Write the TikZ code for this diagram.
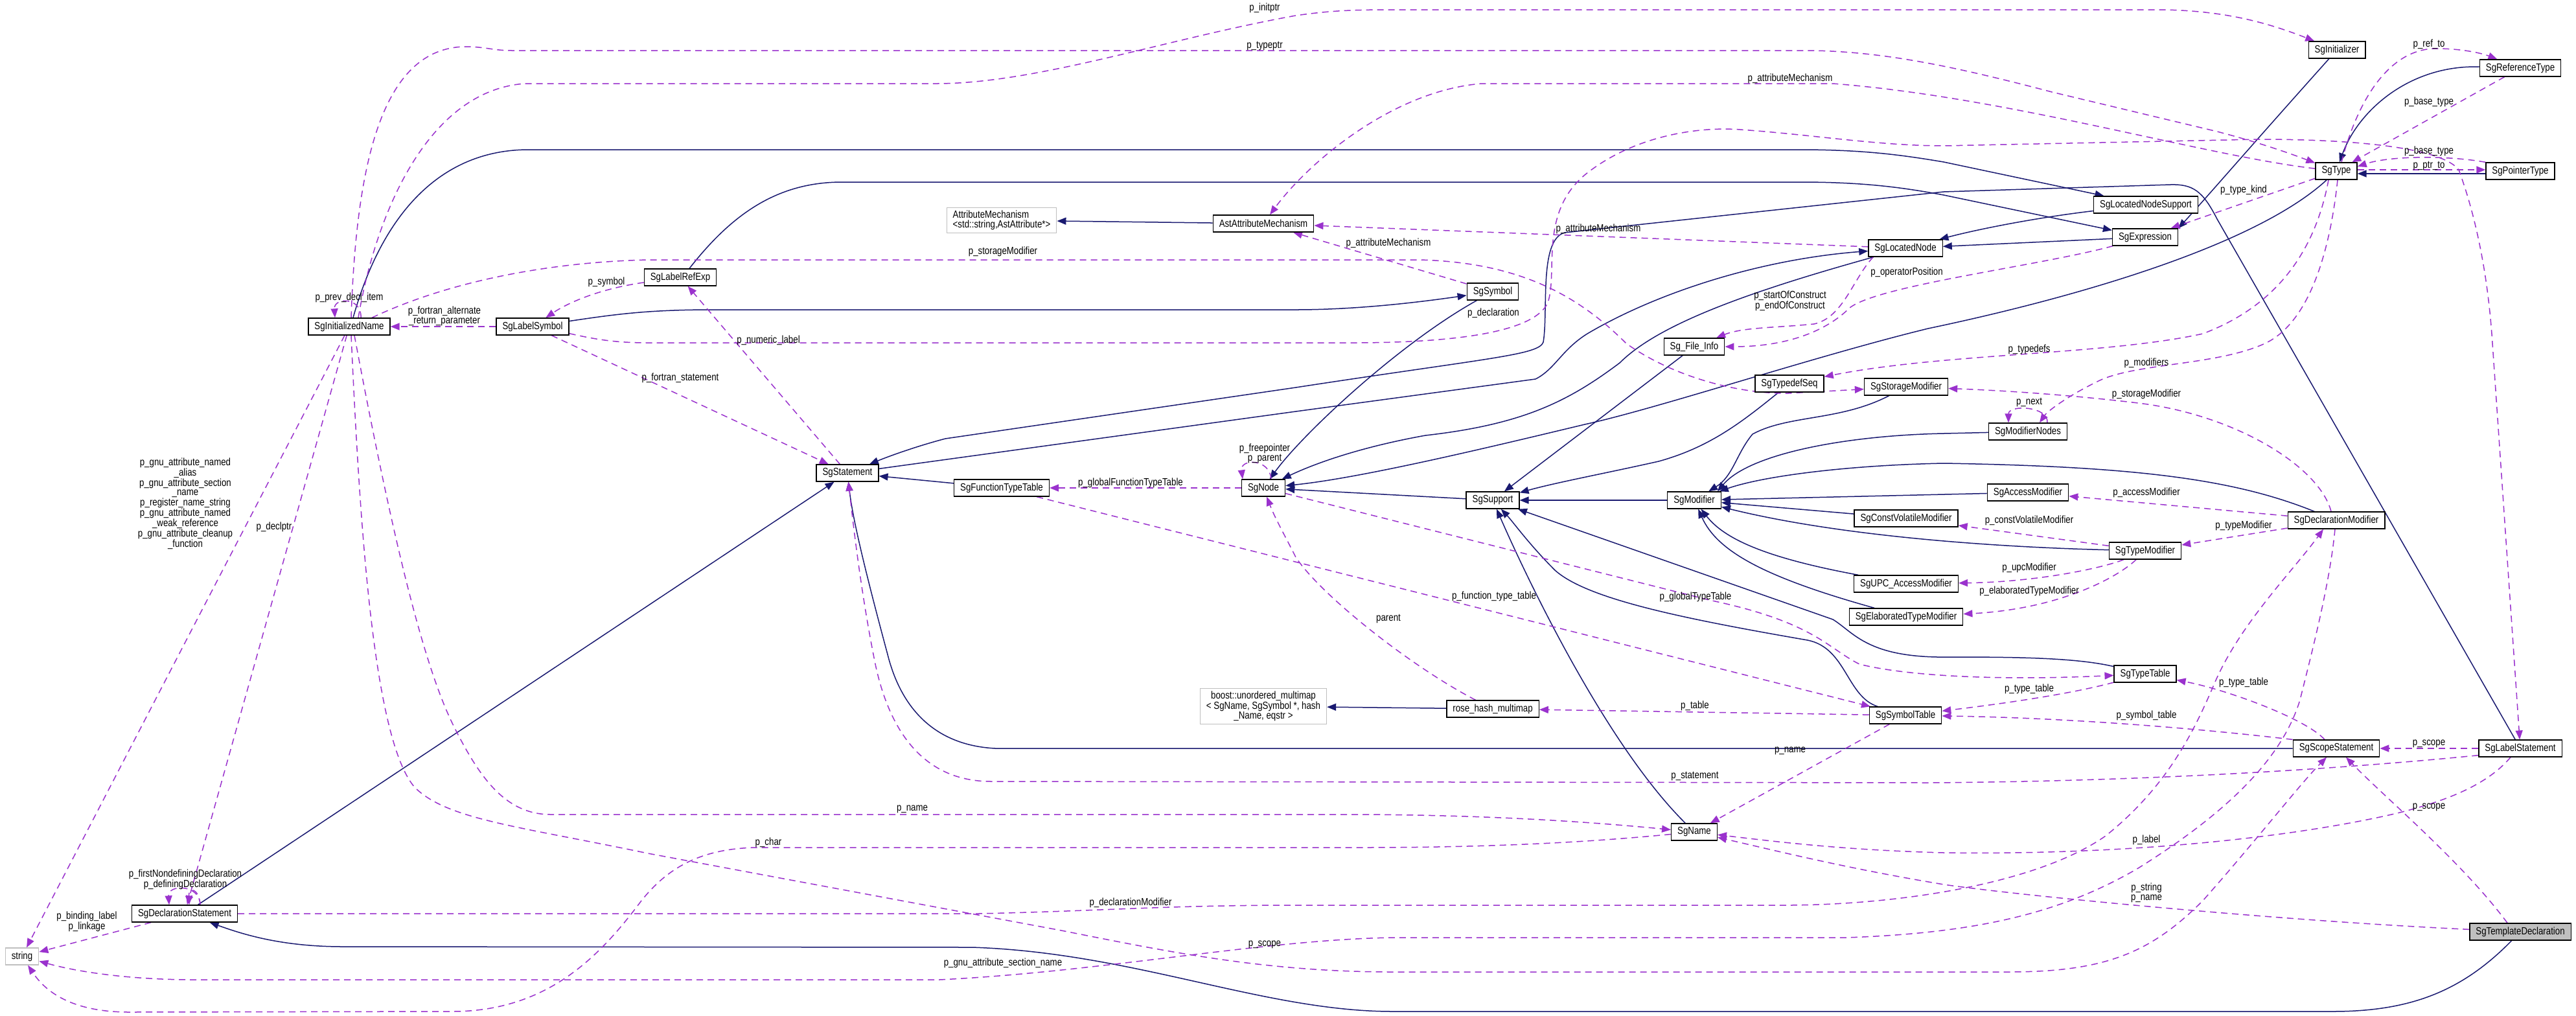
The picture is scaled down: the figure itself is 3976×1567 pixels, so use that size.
\documentclass[tikz,border=0pt]{standalone}
\usepackage{fontspec}
\setmainfont{Liberation Sans}[FakeStretch=0.83]
\usepackage{tikz}
\usetikzlibrary{arrows.meta, backgrounds}
\definecolor{navyline}{RGB}{25,25,112}
\definecolor{orchidline}{RGB}{154,50,205}
\definecolor{grayborder}{RGB}{191,191,191}
\definecolor{grayfill}{RGB}{191,191,191}
\newcommand{\graphfont}{\fontsize{16}{14.7}\selectfont}

\begin{document}
\begin{tikzpicture}[x=1pt, y=-1pt,
    cls/.style={rectangle, draw=black, line width=1.3pt, fill=white, minimum height=26pt,
                inner xsep=9.5pt, inner ysep=2pt, font=\graphfont},
    ext/.style={cls, draw=grayborder, align=left, inner ysep=5pt},
    lbl/.style={inner sep=0pt, align=center, font=\graphfont},
    inh/.style={-{Triangle[length=14pt,width=11pt]}, line width=1.5pt, navyline},
    use/.style={-{Triangle[length=14pt,width=11pt]}, line width=1.5pt, orchidline, dash pattern=on 10pt off 7pt}
]
\useasboundingbox (0,0) rectangle (3976,1567);

\node (initname) [cls] at (539,504) {SgInitializedName};
\node (labelsym) [cls] at (822,504) {SgLabelSymbol};
\node (labelref) [cls] at (1050,428) {SgLabelRefExp};
\node (attrmech) [ext] at (1546,340) {AttributeMechanism\\<std::string,AstAttribute*>};
\node (astattr) [cls] at (1950,345) {AstAttributeMechanism};
\node (symbol) [cls] at (2304,450) {SgSymbol};
\node (locnode) [cls] at (2941,383) {SgLocatedNode};
\node (initializer) [cls] at (3607,77) {SgInitializer};
\node (reftype) [cls] at (3890,105) {SgReferenceType};
\node (type) [cls] at (3606,264) {SgType};
\node (ptrtype) [cls] at (3890,264) {SgPointerType};
\node (locsupport) [cls] at (3312,316) {SgLocatedNodeSupport};
\node (expr) [cls] at (3311,366) {SgExpression};
\node (stmt) [cls] at (1308,730) {SgStatement};
\node (functable) [cls] at (1546,753) {SgFunctionTypeTable};
\node (sgnode) [cls] at (1950,753) {SgNode};
\node (fileinfo) [cls] at (2615,535) {Sg\_File\_Info};
\node (typedefseq) [cls] at (2762,592) {SgTypedefSeq};
\node (storagemod) [cls] at (2942,597) {SgStorageModifier};
\node (support) [cls] at (2304,772) {SgSupport};
\node (modifier) [cls] at (2615,772) {SgModifier};
\node (cvmod) [cls] at (2942,800) {SgConstVolatileModifier};
\node (upcmod) [cls] at (2942,901) {SgUPC\_AccessModifier};
\node (elabmod) [cls] at (2942,952) {SgElaboratedTypeModifier};
\node (modnodes) [cls] at (3130,666) {SgModifierNodes};
\node (accessmod) [cls] at (3130,760) {SgAccessModifier};
\node (typemod) [cls] at (3311,850) {SgTypeModifier};
\node (declmod) [cls] at (3606,803) {SgDeclarationModifier};
\node (typetable) [cls] at (3311,1040) {SgTypeTable};
\node (boostmap) [ext, align=center] at (1950,1090) {boost::unordered\_multimap\\< SgName, SgSymbol *, hash\\\_Name, eqstr >};
\node (rosemap) [cls] at (2304,1094) {rose\_hash\_multimap};
\node (symtable) [cls] at (2941,1104) {SgSymbolTable};
\node (sgname) [cls] at (2615,1284) {SgName};
\node (scopestmt) [cls] at (3606,1155) {SgScopeStatement};
\node (labelstmt) [cls] at (3890,1155) {SgLabelStatement};
\node (tmpldecl) [cls, fill=grayfill] at (3890,1438) {SgTemplateDeclaration};
\node (string) [ext] at (34,1476) {string};
\node (declstmt) [cls] at (285,1410) {SgDeclarationStatement};

\node (l_initptr) [lbl] at (1952,12) {p\_initptr};
\node (l_typeptr) [lbl] at (1952,71) {p\_typeptr};
\node (l_prevdecl) [lbl] at (539,459) {p\_prev\_decl\_item};
\node (l_fortalt) [lbl] at (686,488) {p\_fortran\_alternate\\\_return\_parameter};
\node (l_symbol) [lbl] at (936,435) {p\_symbol};
\node (l_storagemod) [lbl] at (1548,388) {p\_storageModifier};
\node (l_attrmech1) [lbl] at (2763,121) {p\_attributeMechanism};
\node (l_attrmech2) [lbl] at (2467,353) {p\_attributeMechanism};
\node (l_attrmech3) [lbl] at (2143,375) {p\_attributeMechanism};
\node (l_declaration) [lbl] at (2305,483) {p\_declaration};
\node (l_oppos) [lbl] at (2943,420) {p\_operatorPosition};
\node (l_construct) [lbl] at (2763,464) {p\_startOfConstruct\\p\_endOfConstruct};
\node (l_typekind) [lbl] at (3463,293) {p\_type\_kind};
\node (l_refto) [lbl] at (3749,68) {p\_ref\_to};
\node (l_basetype1) [lbl] at (3749,157) {p\_base\_type};
\node (l_basetype2) [lbl] at (3749,233) {p\_base\_type};
\node (l_ptrto) [lbl] at (3749,256) {p\_ptr\_to};
\node (l_numlabel) [lbl] at (1186,525) {p\_numeric\_label};
\node (l_fortstmt) [lbl] at (1050,583) {p\_fortran\_statement};
\node (l_freeptr) [lbl] at (1952,700) {p\_freepointer\\p\_parent};
\node (l_globalfunc) [lbl] at (1745,745) {p\_globalFunctionTypeTable};
\node (l_functable) [lbl] at (2306,920) {p\_function\_type\_table};
\node (l_globaltype) [lbl] at (2617,921) {p\_globalTypeTable};
\node (l_parent) [lbl] at (2143,955) {parent};
\node (l_typedefs) [lbl] at (3132,539) {p\_typedefs};
\node (l_modifiers) [lbl] at (3313,560) {p\_modifiers};
\node (l_storagemod2) [lbl] at (3313,608) {p\_storageModifier};
\node (l_next) [lbl] at (3132,621) {p\_next};
\node (l_accessmod) [lbl] at (3313,760) {p\_accessModifier};
\node (l_cvmod) [lbl] at (3132,803) {p\_constVolatileModifier};
\node (l_typemod) [lbl] at (3463,811) {p\_typeModifier};
\node (l_upcmod) [lbl] at (3132,876) {p\_upcModifier};
\node (l_elabmod) [lbl] at (3132,912) {p\_elaboratedTypeModifier};
\node (l_typetable1) [lbl] at (3132,1063) {p\_type\_table};
\node (l_typetable2) [lbl] at (3463,1053) {p\_type\_table};
\node (l_symtable) [lbl] at (3313,1104) {p\_symbol\_table};
\node (l_scope1) [lbl] at (3749,1148) {p\_scope};
\node (l_scope2) [lbl] at (3749,1246) {p\_scope};
\node (l_label) [lbl] at (3313,1296) {p\_label};
\node (l_stringname) [lbl] at (3313,1378) {p\_string\\p\_name};
\node (l_table) [lbl] at (2616,1089) {p\_table};
\node (l_name1) [lbl] at (2763,1159) {p\_name};
\node (l_statement) [lbl] at (2616,1198) {p\_statement};
\node (l_name2) [lbl] at (1408,1249) {p\_name};
\node (l_char) [lbl] at (1186,1300) {p\_char};
\node (l_declmod) [lbl] at (1745,1393) {p\_declarationModifier};
\node (l_scope3) [lbl] at (1952,1458) {p\_scope};
\node (l_sectionname) [lbl] at (1548,1486) {p\_gnu\_attribute\_section\_name};
\node (l_gnu) [lbl] at (286,777) {p\_gnu\_attribute\_named\\\_alias\\p\_gnu\_attribute\_section\\\_name\\p\_register\_name\_string\\p\_gnu\_attribute\_named\\\_weak\_reference\\p\_gnu\_attribute\_cleanup\\\_function};
\node (l_declptr) [lbl] at (423,813) {p\_declptr};
\node (l_defdecl) [lbl] at (286,1357) {p\_firstNondefiningDeclaration\\p\_definingDeclaration};
\node (l_binding) [lbl] at (134,1422) {p\_binding\_label\\p\_linkage};

\begin{scope}[on background layer]
\draw [inh] ([xshift=6pt]initname.north) .. controls (590,330) and (680,231) .. (816,231) -- (2778,231) .. controls (2880,231) and (2940,240) .. (3000,250) -- (locsupport);
\draw [inh] ([xshift=14pt]labelref.north) .. controls (1130,330) and (1200,281) .. (1300,281) -- (2778,281) .. controls (2880,281) and (2940,290) .. (3000,301) -- (expr);
\draw [inh] (labelstmt) -- (3422,338) .. controls (3400,295) and (3385,284) .. (3350,285) -- (3000,296) -- (2415,359) .. controls (2375,370) and (2390,480) .. (2382,528) .. controls (2375,548) and (2300,552) .. (2000,598) -- (1459,677) .. controls (1410,690) and (1370,705) .. (stmt);
\draw [inh] (stmt) -- (2000,635) -- (2370,585) .. controls (2400,570) and (2410,540) .. (2450,515) .. controls (2560,450) and (2720,400) .. (locnode);
\draw [inh] (expr) -- (locnode);
\draw [inh] (locsupport) .. controls (3150,335) and (3060,352) .. (locnode);
\draw [inh] (initializer) .. controls (3470,230) and (3410,300) .. (expr.north east);
\draw [inh] (type) .. controls (3480,380) and (3200,460) .. (2976,507) .. controls (2800,550) and (2560,630) .. (2446,655) .. controls (2300,690) and (2100,738) .. (sgnode);
\draw [inh] (symbol) .. controls (2160,530) and (2010,670) .. (sgnode);
\draw [inh] (locnode) .. controls (2700,450) and (2560,500) .. (2500,560) .. controls (2420,620) and (2350,655) .. (2200,672) .. controls (2100,690) and (2030,715) .. (sgnode);
\draw [inh] (support) -- (sgnode);
\draw [inh] (functable) -- (stmt);
\draw [inh] (declstmt) -- (stmt);
\draw [inh] (scopestmt) -- (1536,1155) .. controls (1440,1150) and (1390,1090) .. (1370,1010) .. controls (1335,880) and (1316,800) .. (stmt);
\draw [inh] (tmpldecl) .. controls (3800,1530) and (3720,1561) .. (3600,1561) -- (2150,1561) .. controls (1950,1561) and (1750,1470) .. (1500,1462) -- (530,1461) .. controls (430,1461) and (370,1440) .. (declstmt);
\draw [inh] (labelsym) .. controls (950,485) and (1000,478) .. (1100,478) -- (2000,478) .. controls (2100,478) and (2200,465) .. (symbol);
\draw [inh] (modifier) -- (support);
\draw [inh] (fileinfo) -- (support);
\draw [inh] (typedefseq) .. controls (2690,650) and (2640,690) .. (2560,712) .. controls (2480,730) and (2400,745) .. (support);
\draw [inh] (sgname) .. controls (2480,1150) and (2360,900) .. (support);
\draw [inh] (symtable) .. controls (2850,1075) and (2850,1000) .. (2790,988) .. controls (2600,955) and (2450,925) .. (2400,880) .. controls (2360,840) and (2335,805) .. (support);
\draw [inh] (typetable) .. controls (3200,1014) and (3100,1014) .. (2990,1014) .. controls (2880,1012) and (2860,975) .. (2829,956) -- (support);
\draw [inh] (storagemod) .. controls (2840,650) and (2760,640) .. (2705,670) .. controls (2680,700) and (2675,735) .. (modifier);
\draw [inh] (modnodes) -- (3000,669) .. controls (2850,672) and (2700,700) .. ([xshift=-6pt]modifier.north east);
\draw [inh] (accessmod) -- (modifier);
\draw [inh] (cvmod) -- (modifier);
\draw [inh] (typemod) .. controls (3100,845) and (2850,830) .. (modifier);
\draw [inh] (upcmod) .. controls (2720,860) and (2660,830) .. (modifier);
\draw [inh] (elabmod) .. controls (2720,890) and (2650,850) .. (modifier);
\draw [inh] (declmod) .. controls (3450,740) and (3300,720) .. (3000,715) .. controls (2850,718) and (2720,735) .. (modifier);
\draw [inh] (astattr) -- (attrmech);
\draw [inh] (rosemap) -- (boostmap);
\draw [inh] (reftype) .. controls (3720,100) and (3640,170) .. (type);
\draw [inh] ([yshift=-4pt]ptrtype.west) -- ([yshift=-4pt]type.east);

\draw [use] ([xshift=18pt]initname.north) .. controls ([xshift=20pt,yshift=32pt]initname.north) and ([xshift=-24pt,yshift=32pt]initname.north) .. ([xshift=-22pt]initname.north);
\draw [use] ([xshift=3pt]initname.north) .. controls (550,250) and (590,75) .. (717,72) .. controls (750,72) and (760,78) .. (790,78) -- (2797,78) .. controls (2900,80) and (3000,98) .. (3167,142) -- (3422,203) .. controls (3480,218) and (3530,235) .. (type);
\draw [use] ([xshift=14pt]initname.north) .. controls (580,330) and (660,140) .. (810,129) -- (1446,129) .. controls (1600,129) and (1800,60) .. (2000,24) .. controls (2050,17) and (2080,15) .. (2150,15) -- (3327,15) .. controls (3430,15) and (3500,35) .. (initializer);
\draw [use] (labelsym) -- (initname);
\draw [use] (labelref) .. controls (930,445) and (880,465) .. (labelsym);
\draw [use] ([xshift=35pt]initname.north) .. controls (680,440) and (830,405) .. (1000,401) -- (2191,401) .. controls (2350,405) and (2440,460) .. (2510,530) .. controls (2580,580) and (2680,608) .. (2760,607) -- (storagemod);
\draw [use] (type) .. controls (3400,240) and (3100,150) .. (2829,129) -- (2287,129) .. controls (2150,140) and (2020,250) .. (astattr);
\draw [use] (locnode) -- (astattr);
\draw [use] (symbol) -- (astattr);
\draw [use] ([yshift=3pt]labelsym.south east) .. controls (920,524) and (950,529) .. (1000,529) -- (2100,529) .. controls (2260,528) and (2370,510) .. (2389,467) .. controls (2405,420) and (2375,330) .. (2446,270) .. controls (2520,210) and (2620,195) .. (2686,200) .. controls (2800,208) and (2900,225) .. (3000,225) -- (3486,215) .. controls (3650,215) and (3770,230) .. (3795,262) .. controls (3820,330) and (3840,420) .. (3847,530) -- (labelstmt);
\draw [use] (labelsym) -- (stmt);
\draw [use] (stmt) -- (labelref);
\draw [use] (sgnode) -- (functable);
\draw [use] ([xshift=12pt]sgnode.north) .. controls ([xshift=10pt,yshift=32pt]sgnode.north) and ([xshift=-36pt,yshift=32pt]sgnode.north) .. ([xshift=-32pt]sgnode.north);
\draw [use] (rosemap) .. controls (2180,1030) and (2040,920) .. (2000,860) .. controls (1985,830) and (1968,800) .. (sgnode);
\draw [use] (functable) -- (symtable);
\draw [use] (sgnode) -- (2638,926) .. controls (2800,960) and (2820,1000) .. (2870,1025) .. controls (2950,1045) and (3100,1050) .. (typetable);
\draw [use] (symtable) -- (rosemap);
\draw [use] (symtable) -- (sgname);
\draw [use] ([xshift=-12pt]type.south) .. controls (3575,380) and (3520,470) .. (3400,515) .. controls (3250,548) and (3000,545) .. (typedefseq);
\draw [use] ([xshift=2pt]type.south) .. controls (3595,400) and (3560,500) .. (3496,530) .. controls (3420,565) and (3290,560) .. (3235,590) .. controls (3190,612) and (3160,635) .. ([xshift=18pt]modnodes.north);
\draw [use] ([xshift=30pt]modnodes.north) .. controls ([xshift=32pt,yshift=26pt]modnodes.north) and ([xshift=-30pt,yshift=28pt]modnodes.north) .. ([xshift=-30pt]modnodes.north);
\draw [use] ([xshift=-8pt]declmod.north) .. controls (3580,720) and (3450,640) .. (3300,622) .. controls (3200,610) and (3100,603) .. (storagemod);
\draw [use] (declmod) -- (accessmod);
\draw [use] (declmod) -- (typemod);
\draw [use] (typemod) -- (cvmod);
\draw [use] (typemod) .. controls (3250,875) and (3150,898) .. (upcmod);
\draw [use] (typemod) .. controls (3270,890) and (3180,940) .. (elabmod);
\draw [use] (type) -- (expr);
\draw [use] (expr) .. controls (3150,410) and (2900,440) .. (2855,475) .. controls (2820,510) and (2760,535) .. (fileinfo);
\draw [use] ([xshift=8pt]locnode.south west) .. controls (2860,430) and (2845,490) .. (2800,500) .. controls (2740,506) and (2690,505) .. (fileinfo);
\draw [use] ([xshift=8pt]type.north) .. controls (3640,150) and (3690,75) .. (3760,75) .. controls (3800,75) and (3830,82) .. (reftype);
\draw [use] (reftype) -- (type);
\draw [use] (ptrtype.north west) .. controls (3780,240) and (3690,240) .. ([yshift=7pt]type.east);
\draw [use] ([yshift=2pt]type.east) -- ([yshift=2pt]ptrtype.west);
\draw [use] (typetable) .. controls (3200,1070) and (3100,1085) .. (symtable);
\draw [use] ([xshift=-18pt]scopestmt.north) .. controls (3560,1110) and (3440,1065) .. (typetable);
\draw [use] (scopestmt.north west) .. controls (3400,1125) and (3200,1108) .. (symtable);
\draw [use] (labelstmt) -- (scopestmt);
\draw [use] ([yshift=3pt]labelstmt.south west) .. controls (3600,1188) and (3300,1206) .. (2976,1208) -- (1530,1206) .. controls (1420,1206) and (1370,1120) .. (1350,1020) .. controls (1330,920) and (1318,820) .. (stmt);
\draw [use] ([xshift=-15pt]labelstmt.south) .. controls (3840,1210) and (3780,1235) .. (3700,1255) .. controls (3550,1290) and (3300,1320) .. (3000,1316) .. controls (2850,1312) and (2750,1300) .. (sgname);
\draw [use] ([xshift=-20pt]tmpldecl.north) .. controls (3800,1330) and (3680,1230) .. ([xshift=15pt]scopestmt.south);
\draw [use] (tmpldecl) .. controls (3500,1420) and (3100,1380) .. (3000,1365) .. controls (2850,1340) and (2750,1315) .. (sgname);
\draw [use] (initname) -- (string);
\draw [use] (initname) -- (declstmt);
\draw [use] ([xshift=3pt]initname.south) .. controls (555,800) and (575,1140) .. (640,1215) .. controls (690,1265) and (800,1275) .. (1000,1317) -- (1638,1436) .. controls (1800,1468) and (1950,1500) .. (2150,1500) -- (3100,1500) .. controls (3250,1500) and (3320,1470) .. (3400,1390) .. controls (3480,1300) and (3550,1210) .. ([xshift=-15pt]scopestmt.south);
\draw [use] ([xshift=8pt]initname.south) .. controls (600,800) and (650,1020) .. (700,1120) .. controls (740,1200) and (780,1257) .. (850,1257) -- (2100,1257) .. controls (2300,1258) and (2450,1268) .. (sgname);
\draw [use] ([xshift=24pt]declstmt.north) .. controls ([xshift=24pt,yshift=32pt]declstmt.north) and ([xshift=-26pt,yshift=32pt]declstmt.north) .. ([xshift=-24pt]declstmt.north);
\draw [use] ([xshift=24pt]declstmt.north) .. controls ([xshift=22pt,yshift=26pt]declstmt.north) and ([xshift=6pt,yshift=28pt]declstmt.north) .. ([xshift=7pt]declstmt.north);
\draw [use] (declstmt) -- (string);
\draw [use] (declstmt) -- (1510,1410) .. controls (1700,1406) and (1800,1397) .. (2000,1397) -- (2765,1397) .. controls (2950,1395) and (3150,1360) .. (3250,1290) .. controls (3350,1210) and (3390,1120) .. (3420,1050) .. controls (3460,960) and (3540,880) .. ([xshift=-20pt]declmod.south);
\draw [use] ([xshift=-2pt]declmod.south) .. controls (3596,900) and (3570,1000) .. (3550,1080) .. controls (3520,1180) and (3420,1265) .. (3300,1340) .. controls (3180,1410) and (3050,1440) .. (2850,1447) -- (2150,1447) .. controls (1950,1450) and (1700,1500) .. (1450,1512) -- (300,1512) .. controls (200,1512) and (120,1500) .. (string);
\draw [use] (sgname) .. controls (2450,1300) and (2300,1308) .. (2100,1308) -- (1166,1308) .. controls (1080,1310) and (1030,1340) .. (990,1390) .. controls (930,1470) and (850,1560) .. (700,1561) -- (200,1562) .. controls (110,1562) and (70,1530) .. (string);
\end{scope}
\end{tikzpicture}
\end{document}
